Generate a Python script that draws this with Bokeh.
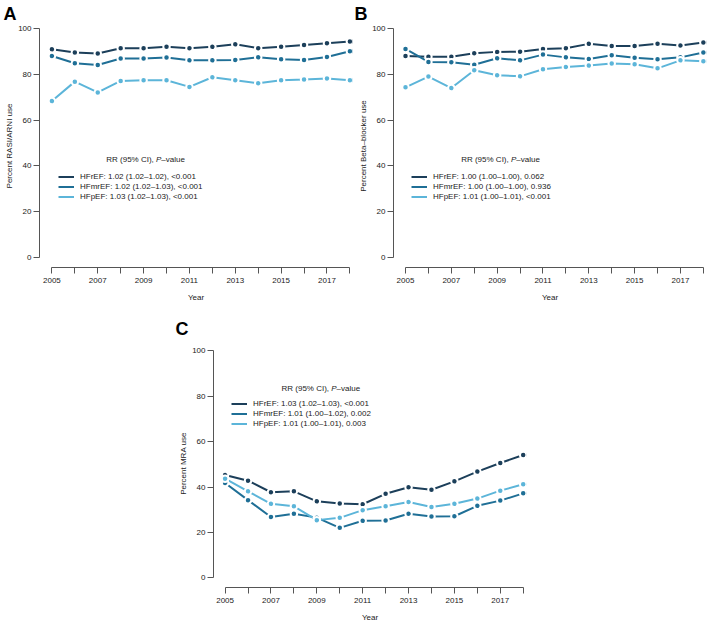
from bokeh.plotting import figure
from bokeh.models import (FixedTicker, Legend, LegendItem, Label, Range1d, Title, Spacer)
from bokeh.layouts import column, row
from bokeh.embed import file_html
from bokeh.resources import INLINE

# ---------------- data ----------------
years = [2005, 2006, 2007, 2008, 2009, 2010, 2011, 2012, 2013, 2014, 2015, 2016, 2017, 2018]
series_names = ["HFrEF", "HFmrEF", "HFpEF"]

# Panel A: RASI/ARNI use (%)
rasi_hfref = [90.9, 89.5, 89.1, 91.4, 91.4, 92.0, 91.4, 92.0, 93.1, 91.4, 92.0, 92.8, 93.6, 94.3]
rasi_hfmref = [88.0, 84.8, 84.1, 86.9, 86.9, 87.3, 86.1, 86.1, 86.3, 87.4, 86.6, 86.3, 87.6, 90.1]
rasi_hfpef = [68.3, 76.8, 72.1, 77.1, 77.4, 77.4, 74.5, 78.7, 77.4, 76.1, 77.4, 77.7, 78.2, 77.4]
rasi_stats = ["1.02 (1.02\u20131.02), <0.001", "1.02 (1.02\u20131.03), <0.001", "1.03 (1.02\u20131.03), <0.001"]

# Panel B: Beta-blocker use (%)
bb_hfref = [88.0, 87.7, 87.7, 89.2, 89.8, 89.9, 91.1, 91.4, 93.3, 92.4, 92.4, 93.4, 92.6, 93.9]
bb_hfmref = [91.1, 85.4, 85.3, 84.2, 87.0, 86.1, 88.6, 87.4, 86.7, 88.3, 87.2, 86.6, 87.4, 89.5]
bb_hfpef = [74.3, 79.0, 74.0, 81.8, 79.6, 79.1, 82.2, 83.2, 83.8, 84.7, 84.4, 82.6, 86.1, 85.7]
bb_stats = ["1.00 (1.00\u20131.00), 0.062", "1.00 (1.00\u20131.00), 0.936", "1.01 (1.00\u20131.01), <0.001"]

# Panel C: MRA use (%)
mra_hfref = [45.3, 42.8, 37.7, 38.1, 33.7, 32.7, 32.4, 37.0, 39.9, 38.8, 42.5, 46.8, 50.6, 54.1]
mra_hfmref = [41.8, 34.2, 26.8, 28.2, 26.5, 22.0, 25.1, 25.2, 28.2, 27.0, 27.1, 31.7, 34.0, 37.2]
mra_hfpef = [43.7, 38.1, 32.6, 31.5, 25.4, 26.4, 29.8, 31.5, 33.4, 31.2, 32.6, 34.9, 38.4, 41.2]
mra_stats = ["1.03 (1.02\u20131.03), <0.001", "1.01 (1.00\u20131.02), 0.002", "1.01 (1.00\u20131.01), 0.003"]

y_ticks = [0, 20, 40, 60, 80, 100]
x_labelled = [2005, 2007, 2009, 2011, 2013, 2015, 2017]

# ---------------- style ----------------
COLORS = ["#1c3f5a", "#1f6f96", "#5cb5d9"]
FONT = "Liberation Sans"
TXT = "#222222"
AX = "#555555"


def make_panel(letter, ylabel, series, stats, width, height, borders, xr, yr,
               letter_offset, legend_loc, legend_title_xy):
    p = figure(width=width, height=height, output_backend="svg", toolbar_location=None,
               x_range=Range1d(*xr), y_range=Range1d(*yr),
               min_border_left=borders[0], min_border_right=borders[1],
               min_border_top=borders[2], min_border_bottom=borders[3])
    p.outline_line_color = None
    p.grid.visible = False
    p.background_fill_color = "white"

    t = Title(text=letter, align="left", text_font=FONT, text_font_size="18px",
              text_font_style="bold", text_color="black", offset=letter_offset, standoff=2)
    p.add_layout(t, "above")

    for ax in (p.xaxis[0], p.yaxis[0]):
        ax.axis_line_color = AX
        ax.major_tick_line_color = AX
        ax.minor_tick_line_color = None
        ax.major_tick_in = 0
        ax.major_tick_out = 6
        ax.major_label_text_font = FONT
        ax.major_label_text_font_size = "8px"
        ax.major_label_text_color = TXT
        ax.axis_label_text_font = FONT
        ax.axis_label_text_font_size = "8px"
        ax.axis_label_text_font_style = "normal"
        ax.axis_label_text_color = TXT
    p.xaxis[0].ticker = FixedTicker(ticks=years)
    p.xaxis[0].major_label_overrides = {y: (str(y) if y in x_labelled else "") for y in years}
    p.xaxis[0].bounds = (years[0], years[-1])
    p.xaxis[0].axis_label = "Year"
    p.xaxis[0].major_label_standoff = 4
    p.xaxis[0].axis_label_standoff = 7
    p.yaxis[0].ticker = FixedTicker(ticks=y_ticks)
    p.yaxis[0].bounds = (y_ticks[0], y_ticks[-1])
    p.yaxis[0].axis_label = ylabel
    p.yaxis[0].major_label_standoff = 2
    p.yaxis[0].axis_label_standoff = 1

    lines = []
    for vals, c in zip(series, COLORS):
        lines.append(p.line(years, vals, line_color=c, line_width=2))
    for vals, c in zip(series, COLORS):
        p.scatter(years, vals, size=6.5, fill_color=c, line_color="white", line_width=2)

    items = [LegendItem(label=f"{n}: {s}", renderers=[r]) for n, s, r in zip(series_names, stats, lines)]
    leg = Legend(items=items, location=legend_loc, margin=0, padding=0, spacing=1,
                 glyph_width=16, glyph_height=9, label_height=9, label_standoff=6,
                 label_text_font=FONT, label_text_font_size="8px", label_text_color=TXT,
                 background_fill_alpha=0, border_line_alpha=0)
    p.add_layout(leg, "center")

    tx, ty = legend_title_xy
    common = dict(x=tx, y=ty, text_font=FONT, text_font_size="8px", text_color=TXT,
                  text_baseline="middle", text_align="left")
    p.add_layout(Label(text="RR (95% CI), ", x_offset=0, **common))
    p.add_layout(Label(text="P", x_offset=49.8, text_font_style="italic", **common))
    p.add_layout(Label(text="\u2013value", x_offset=55.1, **common))
    return p


pA = make_panel("A", "Percent RASI/ARNI use",
                [rasi_hfref, rasi_hfmref, rasi_hfpef], rasi_stats,
                width=354, height=308, borders=(39, 2, 0, 41),
                xr=(2004.4585, 2018.114), yr=(-4.40, 101.76),
                letter_offset=-36, legend_loc=(19, 66), legend_title_xy=(2007.37, 42.96))

pB = make_panel("B", "Percent Beta\u2013blocker use",
                [bb_hfref, bb_hfmref, bb_hfpef], bb_stats,
                width=355, height=308, borders=(39, 3, 0, 41),
                xr=(2004.476, 2018.137), yr=(-4.40, 101.76),
                letter_offset=-39, legend_loc=(18, 66), legend_title_xy=(2007.43, 42.96))

pC = make_panel("C", "Percent MRA use",
                [mra_hfref, mra_hfmref, mra_hfpef], mra_stats,
                width=361, height=318, borders=(45, 3, 31, 39),
                xr=(2004.4946, 2018.144), yr=(-4.31, 105.05),
                letter_offset=-38, legend_loc=(18, 159), legend_title_xy=(2007.46, 83.4))

layout = column(row(pA, pB), row(Spacer(width=168, height=10), pC))

with open("out.html", "w") as f:
    f.write(file_html(layout, INLINE))
